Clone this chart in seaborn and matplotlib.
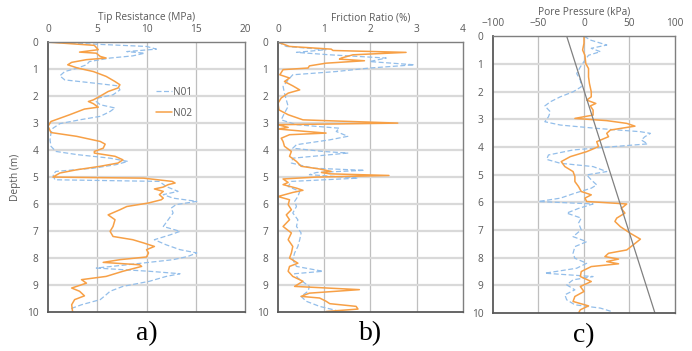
import matplotlib
matplotlib.use("Agg")
import matplotlib.pyplot as plt
import pandas as pd
import seaborn as sns

sns.set_theme(style="white")
plt.rcParams["font.family"] = ["Open Sans", "DejaVu Sans"]

# ---- panel a: tip resistance (MPa) ----
tip_n01_depth = [0, 0.16, 0.26, 0.35, 0.41, 0.51, 0.59, 0.72, 0.84, 0.96, 1.09, 1.25, 1.4, 1.52, 1.62,
                 1.77, 1.95, 2.07, 2.2, 2.32, 2.44, 2.57, 2.75, 2.88, 3.02, 3.19, 3.37, 3.62, 3.86, 4.05,
                 4.17, 4.3, 4.42, 4.54, 4.67, 4.79, 4.91, 5.1, 5.16, 5.35, 5.53, 5.65, 5.78, 5.9, 6.02,
                 6.15, 6.33, 6.58, 6.83, 7.01, 7.14, 7.32, 7.51, 7.69, 7.81, 7.94, 8.06, 8.25, 8.37, 8.49,
                 8.58, 8.68, 8.86, 9.05, 9.23, 9.36, 9.54, 9.73, 9.85, 9.91]
tip_n01 = [0, 10.0, 11.0, 8.0, 9.8, 8.6, 6.3, 4.2, 3.9, 3.0, 1.7, 1.2, 1.7, 4.7, 7.1,
           7.3, 6.6, 5.1, 4.9, 5.3, 6.8, 6.3, 5.3, 3.2, 1.2, 0.5, 0.3, 0.2, 0.3, 0.8,
           3.0, 6.3, 8.1, 6.9, 4.6, 0.8, 0.5, 0.7, 11.3, 12.0, 13.2, 11.7, 12.7, 15.1, 13.0,
           12.5, 12.7, 12.2, 11.7, 13.4, 12.4, 10.8, 12.0, 13.4, 15.1, 14.2, 12.7, 8.0, 4.9, 10.3,
           13.4, 12.0, 10.3, 7.6, 6.3, 5.9, 5.3, 3.4, 2.5, 2.2]
tip_n02_depth = [0, 0.12, 0.2, 0.28, 0.37, 0.41, 0.53, 0.59, 0.65, 0.75, 0.84, 0.96, 1.09, 1.27, 1.46,
                 1.58, 1.7, 1.83, 2.0, 2.14, 2.2, 2.28, 2.41, 2.48, 2.69, 2.94, 3.12, 3.35, 3.49, 3.68,
                 3.78, 3.93, 4.05, 4.11, 4.23, 4.36, 4.48, 4.6, 4.73, 4.85, 5.0, 5.04, 5.16, 5.22, 5.28,
                 5.37, 5.44, 5.53, 5.65, 5.78, 5.84, 5.96, 6.09, 6.21, 6.4, 6.58, 6.83, 7.01, 7.2, 7.32,
                 7.44, 7.57, 7.69, 7.81, 7.96, 8.06, 8.16, 8.25, 8.31, 8.49, 8.68, 8.8, 8.93, 9.11, 9.23,
                 9.4, 9.54, 9.73, 10.0]
tip_n02 = [0, 4.7, 4.9, 5.1, 3.2, 4.9, 5.3, 5.9, 3.9, 2.4, 2.0, 3.0, 4.6, 5.9, 6.8,
           7.3, 7.1, 6.1, 5.3, 4.6, 4.1, 4.6, 5.1, 3.7, 2.2, 0.3, 0.0, 0.3, 2.9, 5.3,
           5.8, 5.6, 4.7, 4.7, 6.8, 7.6, 7.1, 5.3, 2.9, 1.2, 0.5, 9.7, 12.6, 12.9, 12.2,
           11.7, 10.8, 11.7, 11.3, 11.7, 11.5, 10.2, 8.0, 7.3, 6.1, 6.8, 6.6, 6.3, 6.6, 8.6,
           9.7, 10.8, 10.0, 10.2, 10.0, 7.3, 5.6, 9.3, 9.5, 7.6, 5.9, 3.4, 3.9, 2.4, 3.2,
           3.7, 2.7, 2.4, 2.5]

# ---- panel b: friction ratio (%) ----
fr_n01_depth = [0, 0.16, 0.28, 0.38, 0.47, 0.59, 0.72, 0.84, 0.96, 1.09, 1.21, 1.4, 1.64, 1.89, 2.14,
                2.38, 2.63, 2.88, 3.06, 3.19, 3.31, 3.49, 3.62, 3.8, 3.93, 4.05, 4.11, 4.3, 4.48, 4.67,
                4.75, 4.83, 4.91, 5.04, 5.16, 5.35, 5.53, 5.72, 5.9, 6.09, 6.33, 6.58, 6.83, 7.07, 7.32,
                7.57, 7.81, 8.06, 8.31, 8.49, 8.58, 8.74, 8.93, 9.05, 9.23, 9.42, 9.6, 9.79, 9.94]
fr_n01 = [0, 0.18, 1.04, 0.40, 1.12, 2.34, 1.98, 2.95, 1.98, 1.26, 0.32, 0.22, 0.11, 0.14, 0.18,
          0.22, 0.14, 0.07, 0.40, 1.33, 1.26, 1.51, 1.12, 0.40, 0.32, 0.97, 1.51, 0.32, 0.29, 0.76,
          1.87, 0.83, 0.68, 1.73, 0.29, 0.22, 0.47, 0.43, 0.36, 0.40, 0.32, 0.43, 0.40, 0.50, 0.47,
          0.43, 0.36, 0.32, 0.40, 0.97, 0.36, 0.43, 0.58, 0.68, 0.65, 0.50, 0.61, 0.90, 1.26]
fr_n02_depth = [0, 0.16, 0.26, 0.31, 0.38, 0.47, 0.59, 0.63, 0.69, 0.78, 0.88, 0.96, 1.02, 1.21, 1.33,
                1.46, 1.62, 1.77, 1.89, 2.07, 2.26, 2.51, 2.69, 2.88, 3.0, 3.06, 3.16, 3.22, 3.31, 3.37,
                3.43, 3.56, 3.68, 3.86, 4.05, 4.23, 4.42, 4.6, 4.7, 4.79, 4.83, 4.88, 4.94, 5.0, 5.07,
                5.2, 5.28, 5.41, 5.49, 5.57, 5.72, 5.84, 6.02, 6.21, 6.4, 6.58, 6.83, 7.07, 7.32, 7.57,
                7.81, 8.0, 8.19, 8.31, 8.49, 8.68, 8.86, 9.05, 9.17, 9.3, 9.42, 9.48, 9.6, 9.69, 9.79,
                9.89, 9.98]
fr_n02 = [0, 0.25, 1.15, 1.19, 2.77, 1.62, 1.37, 1.33, 1.87, 1.04, 0.68, 0.65, 0.11, 0.04, 0.25,
          0.14, 0.32, 0.47, 0.22, 0.07, 0.0, 0.02, 0.22, 0.54, 2.59, 0.0, 0.22, 0.0, 0.61, 1.04,
          0.25, 0.07, 0.11, 0.14, 0.29, 0.25, 0.40, 0.50, 0.90, 1.15, 0.94, 1.12, 2.40, 0.83, 0.11,
          0.22, 0.11, 0.40, 0.54, 0.32, 0.0, 0.25, 0.22, 0.29, 0.18, 0.25, 0.11, 0.29, 0.22, 0.32,
          0.29, 0.25, 0.43, 0.25, 0.22, 0.32, 0.54, 0.36, 1.76, 0.68, 0.50, 0.90, 1.04, 1.12, 1.69,
          1.73, 1.04]

# ---- panel c: pore pressure (kPa) ----
pp_n01_depth = [0, 0.14, 0.32, 0.44, 0.56, 0.69, 0.87, 1.11, 1.35, 1.59, 1.83, 2.01, 2.19, 2.37, 2.52,
                2.73, 2.91, 3.09, 3.21, 3.33, 3.45, 3.51, 3.63, 3.75, 3.89, 3.99, 4.11, 4.29, 4.45, 4.59,
                4.71, 4.89, 5.01, 5.19, 5.37, 5.49, 5.67, 5.85, 5.97, 6.06, 6.22, 6.39, 6.57, 6.75, 6.99,
                7.24, 7.42, 7.6, 7.84, 8.02, 8.2, 8.38, 8.56, 8.68, 8.8, 8.98, 9.16, 9.34, 9.52, 9.7,
                9.82, 9.94]
pp_n01 = [0, 7, 25, 8, 18, 5, 1, -4, -8, -4, -3, -12, -26, -37, -43,
          -37, -39, -43, -26, 14, 62, 73, 67, 63, 70, 32, -12, -39, -41, -26,
          10, 25, 3, 8, 14, 8, -10, -26, -50, 10, -6, -19, -3, -6, -3,
          -12, 3, -10, -12, -10, 3, -8, -43, 10, -12, -19, -10, -21, -19, -10,
          18, 30]
pp_n02_depth = [0, 0.26, 0.5, 0.69, 0.99, 1.17, 1.47, 1.71, 2.01, 2.19, 2.31, 2.43, 2.52, 2.67, 2.85,
                2.97, 3.05, 3.15, 3.25, 3.39, 3.51, 3.63, 3.81, 3.99, 4.17, 4.35, 4.53, 4.71, 4.89, 5.07,
                5.25, 5.43, 5.61, 5.73, 5.85, 5.97, 6.06, 6.22, 6.39, 6.57, 6.69, 6.88, 7.12, 7.33, 7.54,
                7.72, 7.84, 7.96, 8.05, 8.14, 8.22, 8.32, 8.5, 8.68, 8.86, 9.04, 9.22, 9.4, 9.58, 9.74,
                9.88, 10.0]
pp_n02 = [0, 0, -1.5, 1, 2, 5, 5, 6, 8, 8, 3, 13, 7, 10, 10,
          -10, 25, 47, 56, 29, 25, 27, 14, 16, 3, -15, -25, -21, -12, -10,
          -10, -6, -3, 8, 1, 3, 47, 41, 45, 36, 34, 40, 51, 62, 54,
          47, 27, 23, 38, 25, 38, 8, -3, -4, 8, -4, 0, -10, -12, 5,
          -4, -6]
hydro_x = [-19, 78]
hydro_depth = [0, 10]

colors = {"N01": "#93BEEA", "N02": "#F7A046"}
txt_col = "#595959"
fs = 7.3

fig = plt.figure(figsize=(6.92, 3.51), dpi=100)
ax_a = fig.add_axes([0.0694, 0.111, 0.2847, 0.769])
ax_b = fig.add_axes([0.4017, 0.111, 0.2673, 0.769])
ax_c = fig.add_axes([0.7124, 0.108, 0.263, 0.789])


def draw_panel(ax, n01_d, n01_v, n02_d, n02_v, xlim, xticks, title, tag):
    sns.lineplot(x=n01_v, y=n01_d, ax=ax, sort=False, estimator=None, orient="y",
                 color=colors["N01"], linestyle=(0, (4, 2)), linewidth=0.9, label="N01")
    sns.lineplot(x=n02_v, y=n02_d, ax=ax, sort=False, estimator=None, orient="y",
                 color=colors["N02"], linewidth=1.1, label="N02")
    ax.set_xlim(*xlim)
    ax.set_ylim(10, 0)
    ax.set_xticks(xticks)
    ax.set_yticks(range(0, 11))
    ax.xaxis.tick_top()
    ax.xaxis.set_label_position("top")
    ax.set_xlabel(title, fontsize=fs, color=txt_col, labelpad=3)
    ax.set_ylabel("")
    ax.tick_params(axis="x", length=0, labelsize=fs, labelcolor=txt_col, pad=5)
    ax.tick_params(axis="y", length=0, labelsize=fs, labelcolor=txt_col, pad=7)
    for x in xticks[1:-1]:
        ax.axvline(x, color="#BFBFBF", linewidth=0.9, zorder=0)
    for y in range(1, 10):
        ax.axhline(y, color="#D9D9D9", linewidth=1.6, zorder=0)
    for side in ["top", "right"]:
        ax.spines[side].set_color("#7F7F7F")
        ax.spines[side].set_linewidth(1.0)
    for side in ["left", "bottom"]:
        ax.spines[side].set_color("#595959")
        ax.spines[side].set_linewidth(1.3)
    ax.text(0.5, -0.035, tag, transform=ax.transAxes, ha="center", va="top",
            fontsize=20, family="Liberation Serif", color="black")


draw_panel(ax_a, tip_n01_depth, tip_n01, tip_n02_depth, tip_n02,
           (0, 20), [0, 5, 10, 15, 20], "Tip Resistance (MPa)", "a)")
draw_panel(ax_b, fr_n01_depth, fr_n01, fr_n02_depth, fr_n02,
           (0, 4), [0, 1, 2, 3, 4], "Friction Ratio (%)", "b)")
draw_panel(ax_c, pp_n01_depth, pp_n01, pp_n02_depth, pp_n02,
           (-100, 100), [-100, -50, 0, 50, 100], "Pore Pressure (kPa)", "c)")
sns.lineplot(x=hydro_x, y=hydro_depth, ax=ax_c, sort=False, estimator=None, orient="y",
             color="#808080", linewidth=0.9)

ax_a.set_ylabel("Depth (m)", fontsize=fs, color=txt_col, labelpad=4)
ax_a.legend(loc="center left", bbox_to_anchor=(0.5, 0.775), frameon=False, fontsize=fs,
            handlelength=1.6, handletextpad=0.1, labelspacing=1.0, labelcolor=txt_col)
ax_b.get_legend().remove()
ax_c.get_legend().remove()

fig.savefig("out.png", dpi=100)
plt.close(fig)
